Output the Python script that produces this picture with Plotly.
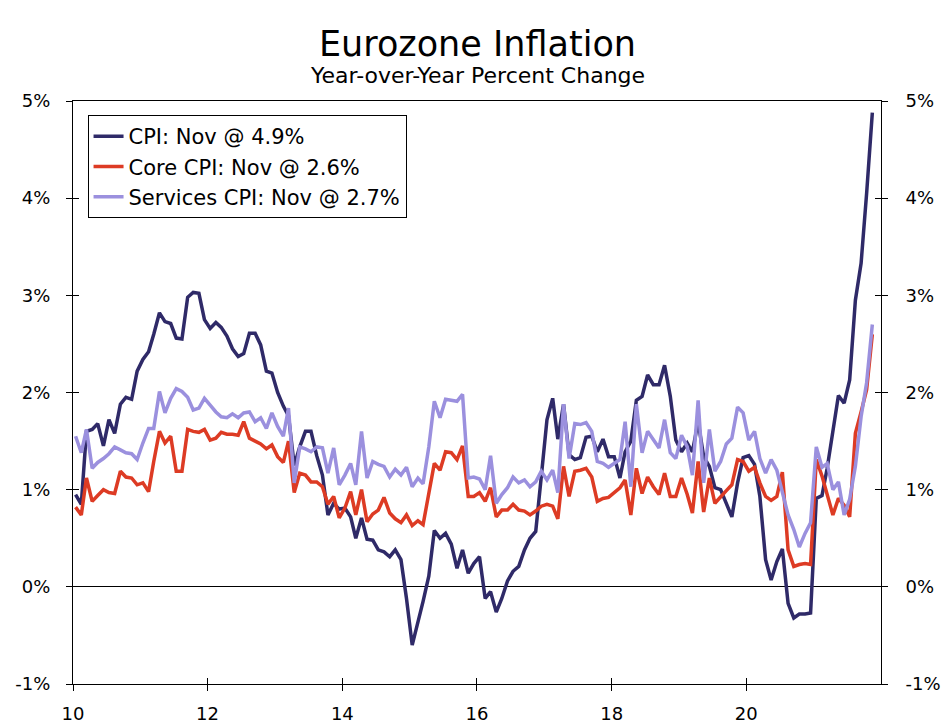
import pandas as pd
import plotly.graph_objects as go

# monthly, Jan 2010 - Nov 2021, year-over-year % change
months = pd.date_range("2010-01-01", "2021-11-01", freq="MS") + pd.Timedelta(days=14)

cpi = [
    0.95, 0.85, 1.60, 1.62, 1.68, 1.45, 1.72, 1.58, 1.88, 1.95, 1.93, 2.22,
    2.34, 2.42, 2.60, 2.82, 2.73, 2.71, 2.56, 2.55, 2.98, 3.03, 3.02, 2.75,
    2.66, 2.72, 2.67, 2.58, 2.45, 2.37, 2.40, 2.61, 2.61, 2.49, 2.22, 2.20,
    2.00, 1.86, 1.76, 1.25, 1.44, 1.60, 1.60, 1.35, 1.15, 0.74, 0.86, 0.80,
    0.81, 0.72, 0.50, 0.71, 0.49, 0.48, 0.38, 0.36, 0.31, 0.38, 0.28, -0.12,
    -0.60, -0.38, -0.15, 0.11, 0.58, 0.50, 0.55, 0.44, 0.19, 0.38, 0.14, 0.24,
    0.31, -0.12, -0.05, -0.26, -0.12, 0.06, 0.16, 0.21, 0.38, 0.50, 0.57, 1.13,
    1.72, 1.94, 1.52, 1.88, 1.36, 1.31, 1.33, 1.54, 1.55, 1.39, 1.52, 1.34,
    1.34, 1.12, 1.39, 1.50, 1.92, 1.96, 2.18, 2.08, 2.08, 2.28, 1.96, 1.51,
    1.39, 1.48, 1.39, 1.70, 1.34, 1.24, 1.02, 1.00, 0.86, 0.72, 1.07, 1.33,
    1.35, 1.26, 0.93, 0.28, 0.07, 0.26, 0.39, -0.17, -0.32, -0.28, -0.28, -0.27,
    0.91, 0.94, 1.22, 1.58, 1.97, 1.89, 2.13, 2.95, 3.33, 4.05, 4.88,
]

core_cpi = [
    0.82, 0.74, 1.12, 0.88, 0.94, 1.00, 0.97, 0.96, 1.19, 1.13, 1.12, 1.05,
    1.07, 0.98, 1.29, 1.60, 1.48, 1.55, 1.19, 1.19, 1.62, 1.60, 1.59, 1.62,
    1.51, 1.53, 1.59, 1.57, 1.57, 1.56, 1.70, 1.53, 1.50, 1.47, 1.42, 1.46,
    1.34, 1.28, 1.50, 0.97, 1.17, 1.15, 1.08, 1.08, 1.03, 0.85, 0.93, 0.71,
    0.81, 0.98, 0.74, 1.00, 0.67, 0.75, 0.79, 0.92, 0.76, 0.70, 0.66, 0.74,
    0.63, 0.68, 0.64, 0.95, 1.27, 1.20, 1.39, 1.38, 1.31, 1.45, 0.93, 0.93,
    0.97, 0.88, 1.02, 0.72, 0.79, 0.79, 0.85, 0.79, 0.78, 0.74, 0.78, 0.83,
    0.85, 0.83, 0.70, 1.24, 0.93, 1.19, 1.20, 1.22, 1.13, 0.88, 0.91, 0.92,
    0.97, 1.02, 1.10, 0.74, 1.22, 0.96, 1.13, 1.03, 0.95, 1.17, 0.93, 0.93,
    1.12, 0.95, 0.76, 1.29, 0.77, 1.12, 0.86, 0.93, 0.99, 1.05, 1.31, 1.29,
    1.19, 1.23, 1.07, 0.93, 0.89, 0.93, 1.18, 0.38, 0.21, 0.23, 0.24, 0.23,
    1.31, 1.14, 0.95, 0.74, 0.91, 0.84, 0.72, 1.58, 1.80, 2.03, 2.60,
]

services_cpi = [
    1.55, 1.38, 1.62, 1.22, 1.28, 1.32, 1.37, 1.44, 1.41, 1.38, 1.37, 1.31,
    1.48, 1.63, 1.63, 2.01, 1.79, 1.94, 2.04, 2.01, 1.95, 1.82, 1.84, 1.94,
    1.87, 1.80, 1.75, 1.74, 1.78, 1.74, 1.79, 1.80, 1.70, 1.74, 1.63, 1.79,
    1.65, 1.55, 1.84, 1.07, 1.44, 1.42, 1.39, 1.44, 1.43, 1.17, 1.43, 1.05,
    1.15, 1.27, 1.05, 1.60, 1.12, 1.29, 1.26, 1.24, 1.13, 1.21, 1.15, 1.23,
    1.03, 1.12, 1.06, 1.44, 1.91, 1.74, 1.93, 1.92, 1.91, 1.98, 1.12, 1.13,
    1.11, 1.00, 1.35, 0.86, 0.95, 1.02, 1.13, 1.07, 1.10, 1.03, 1.08, 1.19,
    1.10, 1.20, 0.97, 1.88, 1.32, 1.68, 1.67, 1.69, 1.60, 1.29, 1.27, 1.23,
    1.27, 1.31, 1.70, 1.03, 1.88, 1.38, 1.60, 1.51, 1.43, 1.72, 1.38, 1.32,
    1.56, 1.44, 1.15, 1.92, 1.07, 1.62, 1.19, 1.29, 1.47, 1.53, 1.85, 1.79,
    1.51, 1.60, 1.32, 1.17, 1.31, 1.20, 0.98, 0.74, 0.59, 0.41, 0.55, 0.66,
    1.44, 1.23, 1.27, 1.00, 1.08, 0.74, 0.90, 1.24, 1.75, 2.10, 2.70,
]

series_names = ["CPI: Nov @ 4.9%", "Core CPI: Nov @ 2.6%", "Services CPI: Nov @ 2.7%"]
series_colors = ["#2f2a68", "#dd3b24", "#9b90de"]

y_tick_vals = [-1, 0, 1, 2, 3, 4, 5]
y_tick_text = ["-1%", "0%", "1%", "2%", "3%", "4%", "5%"]
x_tick_vals = pd.to_datetime(["2010-01-01", "2012-01-01", "2014-01-01",
                              "2016-01-01", "2018-01-01", "2020-01-01"])
x_tick_text = ["10", "12", "14", "16", "18", "20"]

FONT = "DejaVu Sans"
x_range = ["2010-01-01", "2022-01-01"]
y_range = [-1, 5]

fig = go.Figure()

for name, vals, col in zip(series_names, [cpi, core_cpi, services_cpi], series_colors):
    fig.add_trace(go.Scatter(x=months, y=vals, mode="lines", name=name,
                             line=dict(color=col, width=3.5)))

# invisible helpers so the extra tick axes get drawn
for xa, ya in [("x", "y2"), ("x2", "y3"), ("x", "y4")]:
    fig.add_trace(go.Scatter(x=[months[0]], y=[None], xaxis=xa, yaxis=ya,
                             showlegend=False, hoverinfo="skip", mode="lines"))

tick_font = dict(family=FONT, size=18, color="black")
inner_ticks = dict(ticks="inside", ticklen=6, tickcolor="black", showticklabels=False,
                   showgrid=False, showline=False, zeroline=False, automargin=False)

# page body has an 8px margin, so the figure is 8px smaller and shifted
fig.update_layout(
    width=941, height=719,
    margin=dict(l=65, r=68, t=93, b=43),
    paper_bgcolor="white", plot_bgcolor="white",
    font=dict(family=FONT, color="black"),
    showlegend=True,
    legend=dict(x=0.018, y=0.976, xanchor="left", yanchor="top",
                bordercolor="black", borderwidth=1, bgcolor="white",
                font=dict(family=FONT, size=21, color="black"),
                tracegroupgap=0),
    xaxis=dict(range=x_range, tickvals=x_tick_vals, ticktext=x_tick_text,
               ticks="outside", ticklen=6, tickcolor="black", showgrid=False,
               showline=True, linecolor="black", linewidth=1, mirror=True,
               tickfont=tick_font, ticklabelstandoff=7, zeroline=False,
               automargin=False),
    xaxis2=dict(range=x_range, tickvals=x_tick_vals, overlaying="x", anchor="y",
                **inner_ticks),
    yaxis=dict(range=y_range, tickvals=y_tick_vals, ticktext=y_tick_text,
               ticks="outside", ticklen=6, tickcolor="black", showgrid=False,
               showline=True, linecolor="black", linewidth=1,
               zeroline=True, zerolinecolor="black", zerolinewidth=1,
               tickfont=tick_font, ticklabelstandoff=12, automargin=False),
    yaxis2=dict(range=y_range, tickvals=y_tick_vals, ticktext=y_tick_text,
                overlaying="y", side="right", anchor="x",
                ticks="outside", ticklen=6, tickcolor="black", showgrid=False,
                showline=True, linecolor="black", linewidth=1, zeroline=False,
                tickfont=tick_font, ticklabelstandoff=14, automargin=False),
    yaxis3=dict(range=y_range, tickvals=y_tick_vals, overlaying="y", anchor="x",
                **inner_ticks),
    yaxis4=dict(range=y_range, tickvals=y_tick_vals, overlaying="y", side="right",
                anchor="x", **inner_ticks),
)

fig.add_annotation(text="Eurozone Inflation", xref="paper", yref="paper",
                   x=0.5, y=1.098, xanchor="center", yanchor="middle",
                   showarrow=False, font=dict(family=FONT, size=35, color="black"))
fig.add_annotation(text="Year-over-Year Percent Change", xref="paper", yref="paper",
                   x=0.5, y=1.043, xanchor="center", yanchor="middle",
                   showarrow=False, font=dict(family=FONT, size=22, color="black"))

fig.write_html("out.html")
